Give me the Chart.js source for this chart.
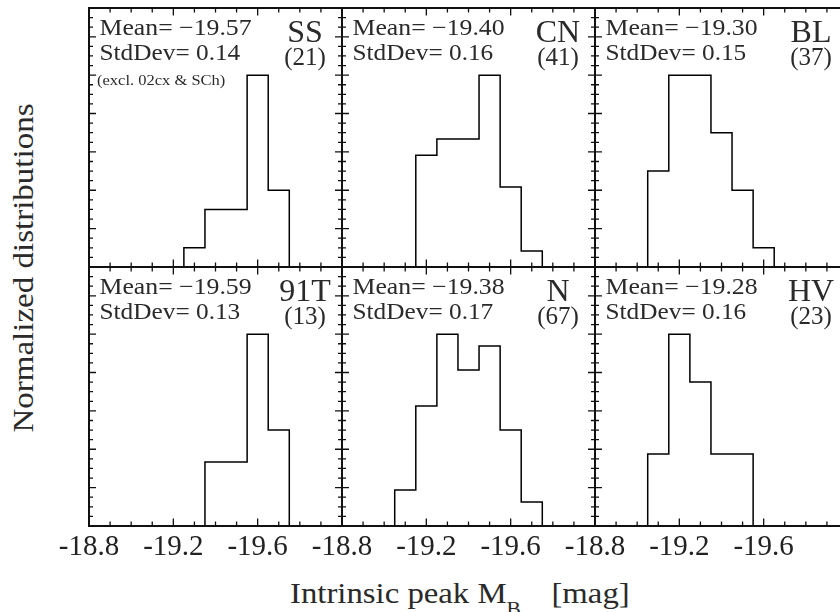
<!DOCTYPE html>
<html>
<head>
<meta charset="utf-8">
<script src="https://cdn.jsdelivr.net/npm/chart.js@4.4.1/dist/chart.umd.min.js"></script>
<style>
html,body{margin:0;padding:0;background:#fff;width:840px;height:612px;overflow:hidden;position:relative;font-family:'Liberation Serif',serif;}
canvas{position:absolute;}
#ytitle{position:absolute;left:23px;top:268px;font-size:30px;line-height:1;white-space:nowrap;color:#2a2a2a;transform:translate(-50%,-50%) rotate(-90deg) scaleX(1.1);}
#xtitle{position:absolute;left:290px;top:579px;font-size:29px;line-height:1;white-space:nowrap;color:#2a2a2a;transform-origin:0 0;transform:scaleX(1.13);}
#xtitle .sub{font-size:19px;position:relative;top:12px;}
#xtitle .unit{margin-left:27px;}
</style>
</head>
<body>
<div id="ytitle">Normalized distributions</div>
<div id="xtitle">Intrinsic peak M<span class="sub">B</span><span class="unit">[mag]</span></div>
<script>
// ---- data ----
const groupNames  = ['SS', 'CN', 'BL', '91T', 'N', 'HV'];
const sampleSizes = [21, 41, 37, 13, 67, 23];
const means       = [-19.57, -19.40, -19.30, -19.59, -19.38, -19.28];
const stdDevs     = [0.14, 0.16, 0.15, 0.13, 0.17, 0.16];
const notes       = ['(excl. 02cx & SCh)', '', '', '', '', ''];

// bin edges [mag] and normalized heights per subclass
const ssEdges    = [-19.25, -19.35, -19.45, -19.55, -19.65, -19.75];
const ssHeights  = [0.1, 0.3, 0.3, 1.0, 0.4];
const cnEdges    = [-19.15, -19.25, -19.35, -19.45, -19.55, -19.65, -19.75];
const cnHeights  = [0.583, 0.667, 0.667, 1.0, 0.417, 0.083];
const blEdges    = [-19.05, -19.15, -19.25, -19.35, -19.45, -19.55, -19.65];
const blHeights  = [0.5, 1.0, 1.0, 0.7, 0.4, 0.1];
const t91Edges   = [-19.35, -19.45, -19.55, -19.65, -19.75];
const t91Heights = [0.333, 0.333, 1.0, 0.5];
const nEdges     = [-19.05, -19.15, -19.25, -19.35, -19.45, -19.55, -19.65, -19.75];
const nHeights   = [0.188, 0.625, 1.0, 0.813, 0.938, 0.5, 0.125];
const hvEdges    = [-19.05, -19.15, -19.25, -19.35, -19.45, -19.55];
const hvHeights  = [0.375, 1.0, 0.75, 0.375, 0.375];

const xTickLabels = ['-18.8', '-19.2', '-19.6'];

// ---- layout ----
const P = 40, B = 50;
const colLeft = [89, 342, 595], panelW = 253;
const rowTop = [8, 267], panelH = 259;
const FONT = '"Liberation Serif", "Times New Roman", serif';

const edgesList = [ssEdges, cnEdges, blEdges, t91Edges, nEdges, hvEdges];
const heightsList = [ssHeights, cnHeights, blHeights, t91Heights, nHeights, hvHeights];

function histPoints(edges, heights) {
  const pts = [{x: edges[0], y: 0}];
  for (let i = 0; i < heights.length; i++) pts.push({x: edges[i], y: heights[i]});
  pts.push({x: edges[edges.length - 1], y: 0});
  return pts;
}

function stretchText(ctx, text, x, y, sx) {
  ctx.save();
  ctx.translate(x, y);
  ctx.scale(sx, 1);
  ctx.fillText(text, 0, 0);
  ctx.restore();
}

function panelPlugin(idx) {
  return {
    id: 'panelDecor' + idx,
    afterDatasetsDraw(chart) {
      const ctx = chart.ctx, a = chart.chartArea;
      const xs = chart.scales.x, ys = chart.scales.y;
      ctx.save();
      ctx.strokeStyle = '#111';
      ctx.lineWidth = 1.3;
      ctx.beginPath();
      for (let k = 0; k <= 12; k++) {
        const px = xs.getPixelForValue(-18.8 - k * 0.1);
        const len = k % 4 === 0 ? 7.5 : 4.5;
        ctx.moveTo(px, a.top); ctx.lineTo(px, a.top + len);
        ctx.moveTo(px, a.bottom); ctx.lineTo(px, a.bottom - len);
      }
      for (let k = 0; k <= 27; k++) {
        const py = ys.getPixelForValue(k * 0.05);
        const len = k % 4 === 0 ? 7 : 4;
        ctx.moveTo(a.left, py); ctx.lineTo(a.left + len, py);
        ctx.moveTo(a.right, py); ctx.lineTo(a.right - len, py);
      }
      ctx.stroke();
      ctx.lineWidth = 2;
      ctx.strokeRect(a.left, a.top, a.right - a.left, a.bottom - a.top);

      ctx.fillStyle = '#2a2a2a';
      ctx.textBaseline = 'alphabetic';
      ctx.textAlign = 'left';
      ctx.font = '23px ' + FONT;
      stretchText(ctx, 'Mean= \u2212' + Math.abs(means[idx]).toFixed(2), a.left + 10.5, a.top + 27, 1.12);
      stretchText(ctx, 'StdDev= ' + stdDevs[idx].toFixed(2), a.left + 10.5, a.top + 52, 1.1);
      if (notes[idx]) {
        ctx.font = '15px ' + FONT;
        stretchText(ctx, notes[idx], a.left + 8, a.top + 77, 1.1);
      }
      ctx.textAlign = 'center';
      ctx.font = '32px ' + FONT;
      ctx.fillText(groupNames[idx], a.right - 37, a.top + 34);
      ctx.font = '25px ' + FONT;
      ctx.fillText('(' + sampleSizes[idx] + ')', a.right - 37, a.top + 57);
      ctx.restore();
    }
  };
}

for (let idx = 0; idx < 6; idx++) {
  const r = Math.floor(idx / 3), c = idx % 3;
  const isBottom = r === 1;
  const cv = document.createElement('canvas');
  const w = panelW + 2 * P;
  const h = panelH + P + (isBottom ? B : P);
  cv.width = w; cv.height = h;
  cv.style.width = w + 'px'; cv.style.height = h + 'px';
  cv.style.left = (colLeft[c] - P) + 'px';
  cv.style.top = (rowTop[r] - P) + 'px';
  document.body.appendChild(cv);

  const xScale = {
    type: 'linear', min: -20.0, max: -18.8, reverse: true,
    display: isBottom,
    grid: {display: false, drawTicks: false},
    border: {display: false},
    ticks: {
      stepSize: 0.1, autoSkip: false, maxRotation: 0, minRotation: 0,
      padding: 4, color: '#222',
      font: {family: FONT, size: 29},
      callback: (v) => { const s = Number(v).toFixed(1); return xTickLabels.includes(s) ? s : ''; }
    }
  };
  if (isBottom) xScale.afterFit = (s) => { s.height = B; };

  new Chart(cv, {
    type: 'line',
    data: {
      datasets: [{
        data: histPoints(edgesList[idx], heightsList[idx]),
        stepped: 'before',
        borderColor: '#000',
        borderWidth: 1.5,
        pointRadius: 0,
        fill: false,
        tension: 0
      }]
    },
    options: {
      responsive: false,
      animation: false,
      events: [],
      layout: {padding: {left: P, right: P, top: P, bottom: isBottom ? 0 : P}},
      plugins: {legend: {display: false}, tooltip: {enabled: false}, title: {display: false}},
      scales: {
        x: xScale,
        y: {type: 'linear', min: 0, max: 1.35, display: false}
      }
    },
    plugins: [panelPlugin(idx)]
  });
}
</script>
</body>
</html>
